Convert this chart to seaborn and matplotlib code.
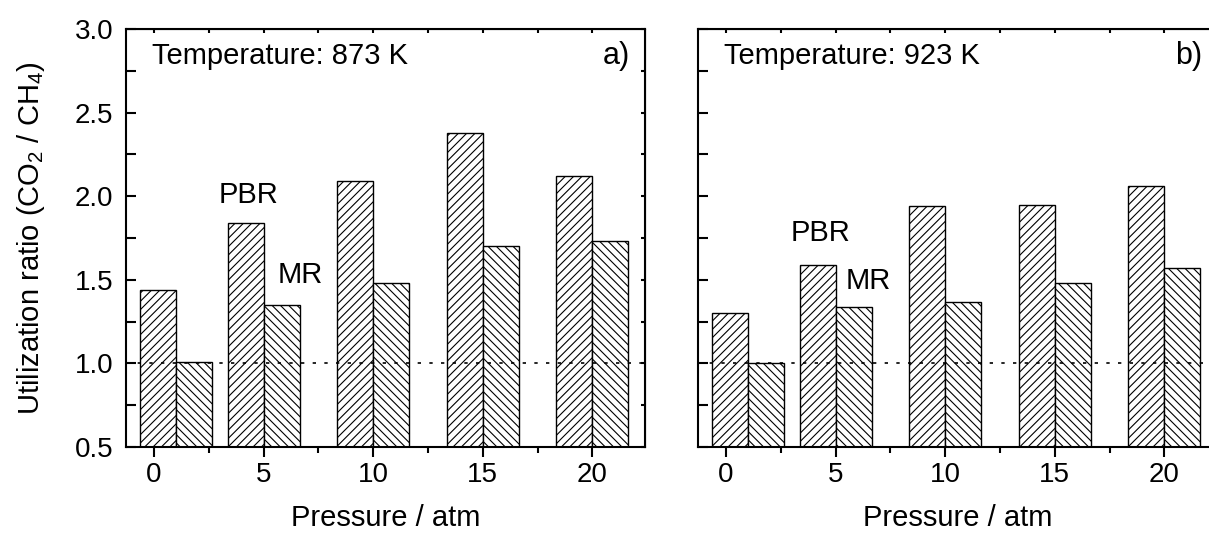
import pandas as pd
import matplotlib
matplotlib.use("Agg")
import matplotlib.pyplot as plt
from matplotlib.ticker import MultipleLocator, FormatStrFormatter
import seaborn as sns

# values (first point is atmospheric pressure)
pressure = [1, 5, 10, 15, 20]
tick_values = [0, 5, 10, 15, 20]
pbr_873 = [1.44, 1.84, 2.09, 2.38, 2.12]
mr_873 = [1.01, 1.35, 1.48, 1.70, 1.73]
pbr_923 = [1.30, 1.59, 1.94, 1.95, 2.06]
mr_923 = [1.00, 1.34, 1.37, 1.48, 1.57]
reactors = ["PBR", "MR"]
temp_labels = ["Temperature: 873 K", "Temperature: 923 K"]
panel_tags = ["a)", "b)"]

sns.set_style("ticks")
plt.rcParams["font.family"] = ["Liberation Sans", "DejaVu Sans"]
plt.rcParams["mathtext.fontset"] = "custom"
plt.rcParams["mathtext.rm"] = "Liberation Sans"
plt.rcParams["mathtext.default"] = "regular"
plt.rcParams["hatch.linewidth"] = 0.8
for key in ["text.color", "axes.labelcolor", "xtick.color", "ytick.color", "axes.edgecolor"]:
    plt.rcParams[key] = "black"
FS = 21
TS = 20


def make_frame(pbr, mr):
    return pd.DataFrame({
        "pressure": pressure * 2,
        "ratio": pbr + mr,
        "reactor": [reactors[0]] * len(pressure) + [reactors[1]] * len(pressure),
    })


fig = plt.figure(figsize=(12.09, 5.33), dpi=100)
ax1 = fig.add_axes([126 / 1209, 86 / 533, 519 / 1209, 418 / 533])
ax2 = fig.add_axes([698 / 1209, 86 / 533, 519 / 1209, 418 / 533])

panels = [(ax1, pbr_873, mr_873), (ax2, pbr_923, mr_923)]
label_pos = [((4.3, 2.01), (5.65, 1.53)), ((4.3, 1.78), (5.45, 1.49))]

for i, (ax, pbr, mr) in enumerate(panels):
    df = make_frame(pbr, mr)
    # native width = 4 (min spacing), so each bar is 0.41 * 4 = 1.64 atm wide
    sns.barplot(data=df, x="pressure", y="ratio", hue="reactor",
                native_scale=True, width=0.82, palette=["white", "white"],
                edgecolor="black", linewidth=1.0, legend=False, ax=ax)
    for cont, h in zip(ax.containers, ["////", "\\\\\\\\"]):
        for bar in cont:
            bar.set_hatch(h)
            bar.set_edgecolor("black")
            bar.set_facecolor("white")

    ax.axhline(1.0, color="black", lw=1.2, ls=(0, (2, 5)), zorder=5)

    ax.set_xlim(-1.28, 22.4)
    ax.set_ylim(0.5, 3.0)
    ax.set_xticks(tick_values)
    ax.xaxis.set_minor_locator(MultipleLocator(2.5))
    ax.yaxis.set_major_locator(MultipleLocator(0.5))
    ax.yaxis.set_minor_locator(MultipleLocator(0.25))
    ax.yaxis.set_major_formatter(FormatStrFormatter("%.1f"))

    for sp in ax.spines.values():
        sp.set_visible(True)
        sp.set_linewidth(1.5)
    ax.tick_params(axis="x", which="major", direction="out", length=7, width=1.5,
                   labelsize=TS, pad=4)
    ax.tick_params(axis="x", which="minor", direction="out", length=4, width=1.5)
    ax.tick_params(axis="y", which="both", direction="in", length=7, width=1.5,
                   labelsize=TS, pad=9)

    top = ax.secondary_xaxis("top")
    top.set_xticks(tick_values)
    top.xaxis.set_minor_locator(MultipleLocator(2.5))
    top.tick_params(which="both", direction="in", length=3, width=1.5, labeltop=False)
    right = ax.secondary_yaxis("right")
    right.yaxis.set_major_locator(MultipleLocator(0.5))
    right.yaxis.set_minor_locator(MultipleLocator(0.25))
    right.tick_params(which="both", direction="in", length=3, width=1.5, labelright=False)

    ax.set_xlabel("Pressure / atm", fontsize=FS, labelpad=11)
    ax.set_ylabel("")

    ax.text(0.05, 0.935, temp_labels[i], transform=ax.transAxes,
            fontsize=FS, ha="left", va="center")
    ax.text(0.971, 0.935, panel_tags[i], transform=ax.transAxes,
            fontsize=FS + 1, ha="right", va="center")
    (px, py), (mx, my) = label_pos[i]
    ax.text(px, py, "PBR", fontsize=FS, ha="center", va="center")
    ax.text(mx, my, "MR", fontsize=FS, ha="left", va="center")

ax1.set_ylabel("Utilization ratio (CO$_2$ / CH$_4$)", fontsize=FS, labelpad=20)
ax2.tick_params(axis="y", labelleft=False)

fig.savefig("out.png", dpi=100)
